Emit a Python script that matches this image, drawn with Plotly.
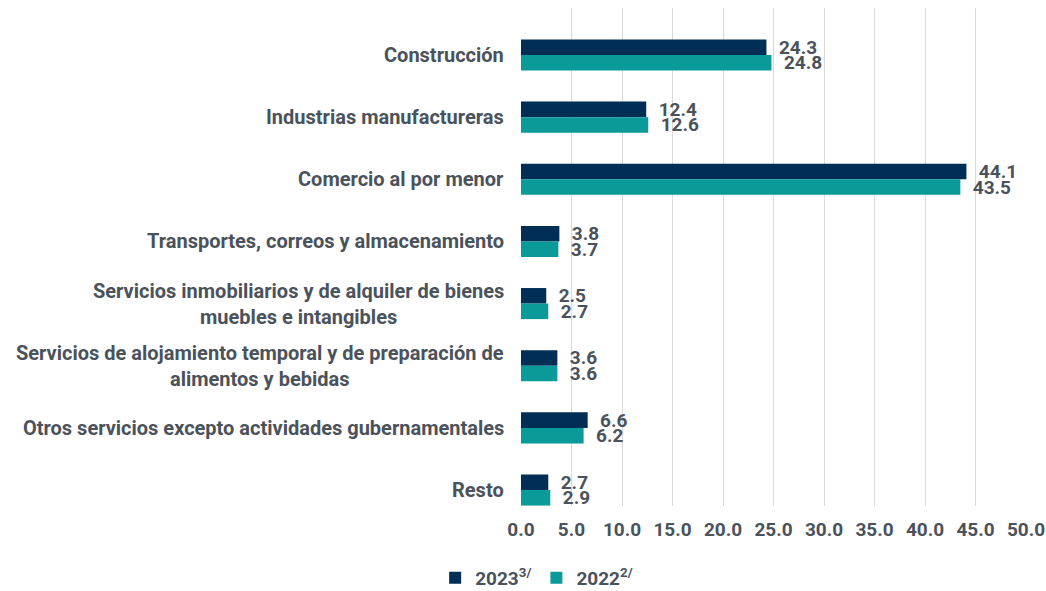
import plotly.graph_objects as go

categories = [
    "Construcción",
    "Industrias manufactureras",
    "Comercio al por menor",
    "Transportes, correos y almacenamiento",
    "Servicios inmobiliarios y de alquiler de bienes<br>muebles e intangibles",
    "Servicios de alojamiento temporal y de preparación de<br>alimentos y bebidas",
    "Otros servicios excepto actividades gubernamentales",
    "Resto",
]
values_2023 = [24.3, 12.4, 44.1, 3.8, 2.5, 3.6, 6.6, 2.7]
values_2022 = [24.8, 12.6, 43.5, 3.7, 2.7, 3.6, 6.2, 2.9]
series_names = ["2023<sup>3/</sup>", "2022<sup>2/</sup>"]
x_ticks = [0, 5, 10, 15, 20, 25, 30, 35, 40, 45, 50]

TXT = "#4a525c"
FONT = "Roboto, Arial, sans-serif"
C_DARK = "#002e55"
C_TEAL = "#0a9a9a"

fig = go.Figure()
for name, vals, col in [(series_names[0], values_2023, C_DARK), (series_names[1], values_2022, C_TEAL)]:
    fig.add_trace(go.Bar(
        y=categories, x=vals, orientation="h", name=name,
        marker=dict(color=col, line=dict(width=0)),
        text=[f"  {v:.1f}" for v in vals], textposition="outside",
        constraintext="none",
        textfont=dict(family=FONT, size=19, color=TXT, weight="bold"),
        cliponaxis=False,
    ))

for c in categories:
    fig.add_annotation(
        x=0, y=c, xref="x", yref="y", xanchor="right", yanchor="middle",
        xshift=-15, text=c, showarrow=False, align="center",
        font=dict(family=FONT, size=20, color=TXT, weight="bold"),
    )

fig.update_layout(
    width=1046, height=591,
    margin=dict(l=521, r=20, t=8, b=85, autoexpand=False),
    paper_bgcolor="white", plot_bgcolor="white",
    barmode="group", bargap=0.5, bargroupgap=0,
    showlegend=True,
    legend=dict(orientation="h", x=-0.17, xanchor="left", y=-0.1446, yanchor="middle",
                font=dict(family=FONT, size=19, color=TXT, weight="bold"),
                itemwidth=30, tracegroupgap=0, itemclick=False),
)
fig.update_xaxes(
    range=[0, 50], tickvals=x_ticks, tickformat=".1f",
    showgrid=True, gridcolor="#d9d9d9", gridwidth=1,
    zeroline=False, showline=False,
    tickfont=dict(family=FONT, size=19, color=TXT, weight="bold"),
    ticklabelstandoff=10, ticklabeloverflow="allow",
)
fig.update_yaxes(
    type="category", categoryorder="array", categoryarray=categories,
    range=[7.257, -0.756], showticklabels=False, showgrid=False,
    zeroline=False, showline=False,
)

fig.write_html(
    "out.html",
    config={"displayModeBar": False},
    post_script="document.body.style.margin='0';document.documentElement.style.overflow='hidden';document.body.style.overflow='hidden';",
)
